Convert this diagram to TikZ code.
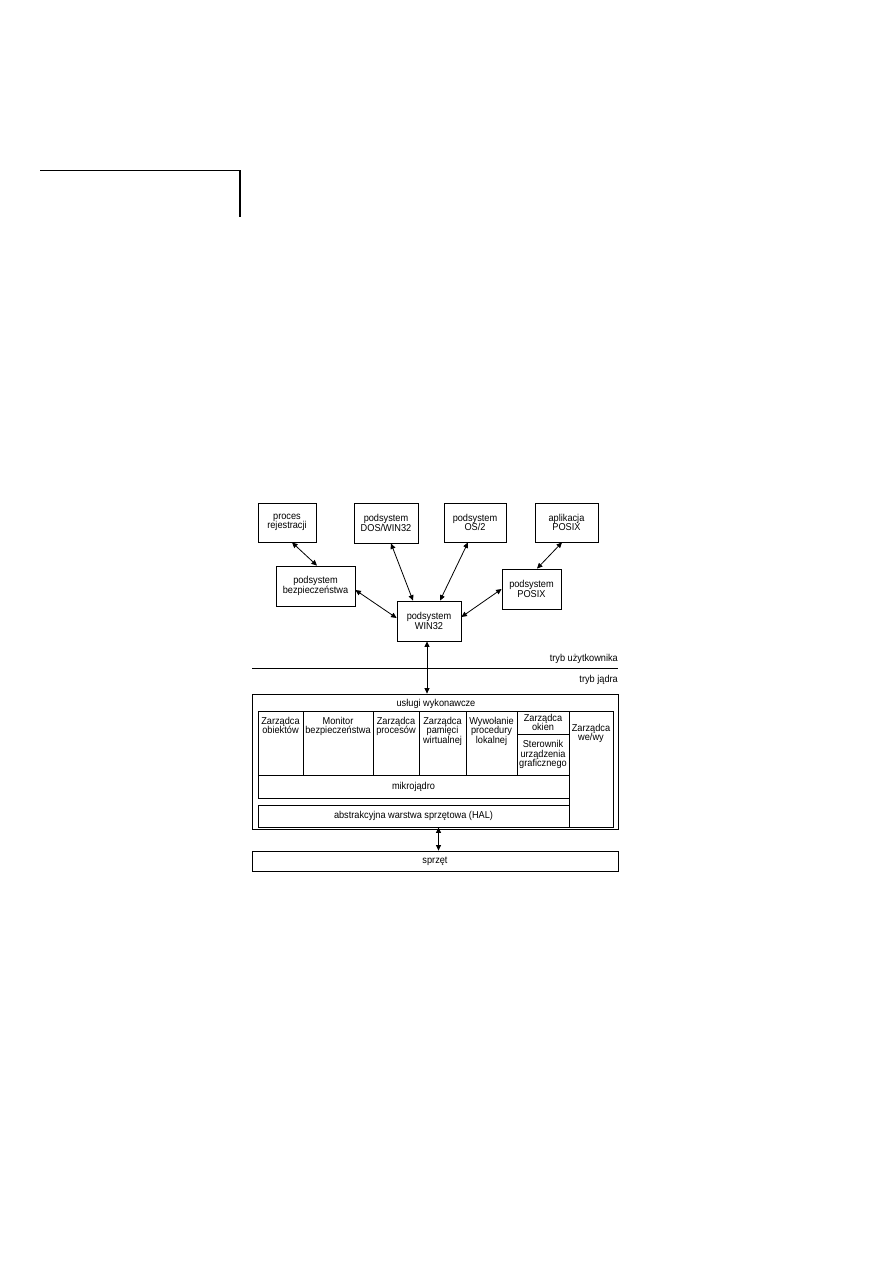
\documentclass[tikz,border=0pt]{standalone}
\usepackage{fontspec}
\setmainfont{Liberation Sans}[FakeStretch=0.92]
\usetikzlibrary{arrows.meta,calc}
\newcommand\figfont{\fontsize{10}{9.5}\selectfont}
\begin{document}
\begin{tikzpicture}[x=1pt,y=-1pt,
  box/.style={draw, line width=0.8pt, align=center, font=\figfont, inner sep=1pt},
  cellt/.style={align=center, font=\figfont, inner sep=1pt},
  lbl/.style={font=\figfont, inner sep=0pt},
  link/.style={line width=0.8pt, {Triangle[length=5.5pt,width=5pt]}-{Triangle[length=5.5pt,width=5pt]}}
]
\useasboundingbox (0,0) rectangle (893,1263);

% corner mark
\coordinate (cA) at (40,170);
\coordinate (cB) at (240,170);
\coordinate (cC) at (240,217);
\draw[line width=0.8pt] (cA) -- (cB);
\draw[line width=2pt] (cB) -- (cC);

% user-mode boxes
\node[box, minimum width=58pt, minimum height=39pt] (proc) at (287,522.5) {proces\\rejestracji};
\node[box, minimum width=64pt, minimum height=40pt] (dos) at (386,523) {podsystem\\DOS/WIN32};
\node[box, minimum width=62pt, minimum height=39pt] (os2) at (475,522.5) {podsystem\\OS/2};
\node[box, minimum width=63pt, minimum height=39pt] (apl) at (566.5,522.5) {aplikacja\\POSIX};
\node[box, minimum width=79pt, minimum height=40pt] (bezp) at (315.5,586) {podsystem\\bezpieczeństwa};
\node[box, minimum width=59pt, minimum height=40pt] (posix) at (531.5,589) {podsystem\\POSIX};
\node[box, minimum width=64pt, minimum height=40pt] (win) at (429,621) {podsystem\\WIN32};

% arrows
\draw[link] ($(proc.south)+(5,0)$) -- ($(bezp.north)+(1.5,0)$);
\draw[link] ($(dos.south)+(5,0)$) -- ($(win.north)+(-16,0)$);
\draw[link] ($(os2.south)+(-7,0)$) -- ($(win.north)+(11,0)$);
\draw[link] ($(apl.south)+(-4.5,0)$) -- ($(posix.north)+(5.5,0)$);
\draw[link] ($(bezp.east)+(0,4)$) -- ($(win.west)+(0,-3)$);
\draw[link] ($(win.east)+(0,-4)$) -- (posix.west);

% mode separator
\coordinate (sepL) at (252,668);
\coordinate (sepR) at (618,668);
\draw[line width=0.8pt] (sepL) -- (sepR);
\node[lbl, anchor=east] (um) at (618,659) {tryb użytkownika};
\node[lbl, anchor=east] (km) at (618,680) {tryb jądra};

% kernel
\node[box, minimum width=366pt, minimum height=135pt] (outer) at (435,761.5) {};
\node[lbl] (usl) at (436,704) {usługi wykonawcze};

\node[box, minimum width=45pt, minimum height=64pt,
  label={[cellt, anchor=north, yshift=-5pt]north:{Zarządca\\obiektów}}] (c1) at (280.5,743) {};
\node[box, minimum width=70pt, minimum height=64pt,
  label={[cellt, anchor=north, yshift=-5pt]north:{Monitor\\bezpieczeństwa}}] (c2) at (338,743) {};
\node[box, minimum width=46pt, minimum height=64pt,
  label={[cellt, anchor=north, yshift=-5pt]north:{Zarządca\\procesów}}] (c3) at (396,743) {};
\node[box, minimum width=47pt, minimum height=64pt,
  label={[cellt, anchor=north, yshift=-5pt]north:{Zarządca\\pamięci\\wirtualnej}}] (c4) at (442.5,743) {};
\node[box, minimum width=51pt, minimum height=64pt,
  label={[cellt, anchor=north, yshift=-5pt]north:{Wywołanie\\procedury\\lokalnej}}] (c5) at (491.5,743) {};
\node[box, minimum width=52pt, minimum height=23pt] (c6) at (543,722.5) {Zarządca\\okien};
\node[box, minimum width=52pt, minimum height=41pt] (c7) at (543,754.5) {Sterownik\\urządzenia\\graficznego};
\node[box, minimum width=44pt, minimum height=116pt,
  label={[cellt, anchor=north, yshift=-12pt]north:{Zarządca\\we/wy}}] (io) at (591,769) {};
\node[box, minimum width=311pt, minimum height=23pt] (mikro) at (413.5,786.5) {mikrojądro};
\node[box, minimum width=311pt, minimum height=22pt] (hal) at (413.5,816) {abstrakcyjna warstwa sprzętowa (HAL)};

\node[box, minimum width=366pt, minimum height=20pt] (hw) at (435,861) {sprzęt};

\coordinate (wa) at ($(win.south)+(-2,0)$);
\draw[link] (wa) -- (wa |- outer.north);
\coordinate (ha) at ($(hal.south)+(25,0)$);
\draw[link] (ha) -- (ha |- hw.north);
\end{tikzpicture}
\end{document}
